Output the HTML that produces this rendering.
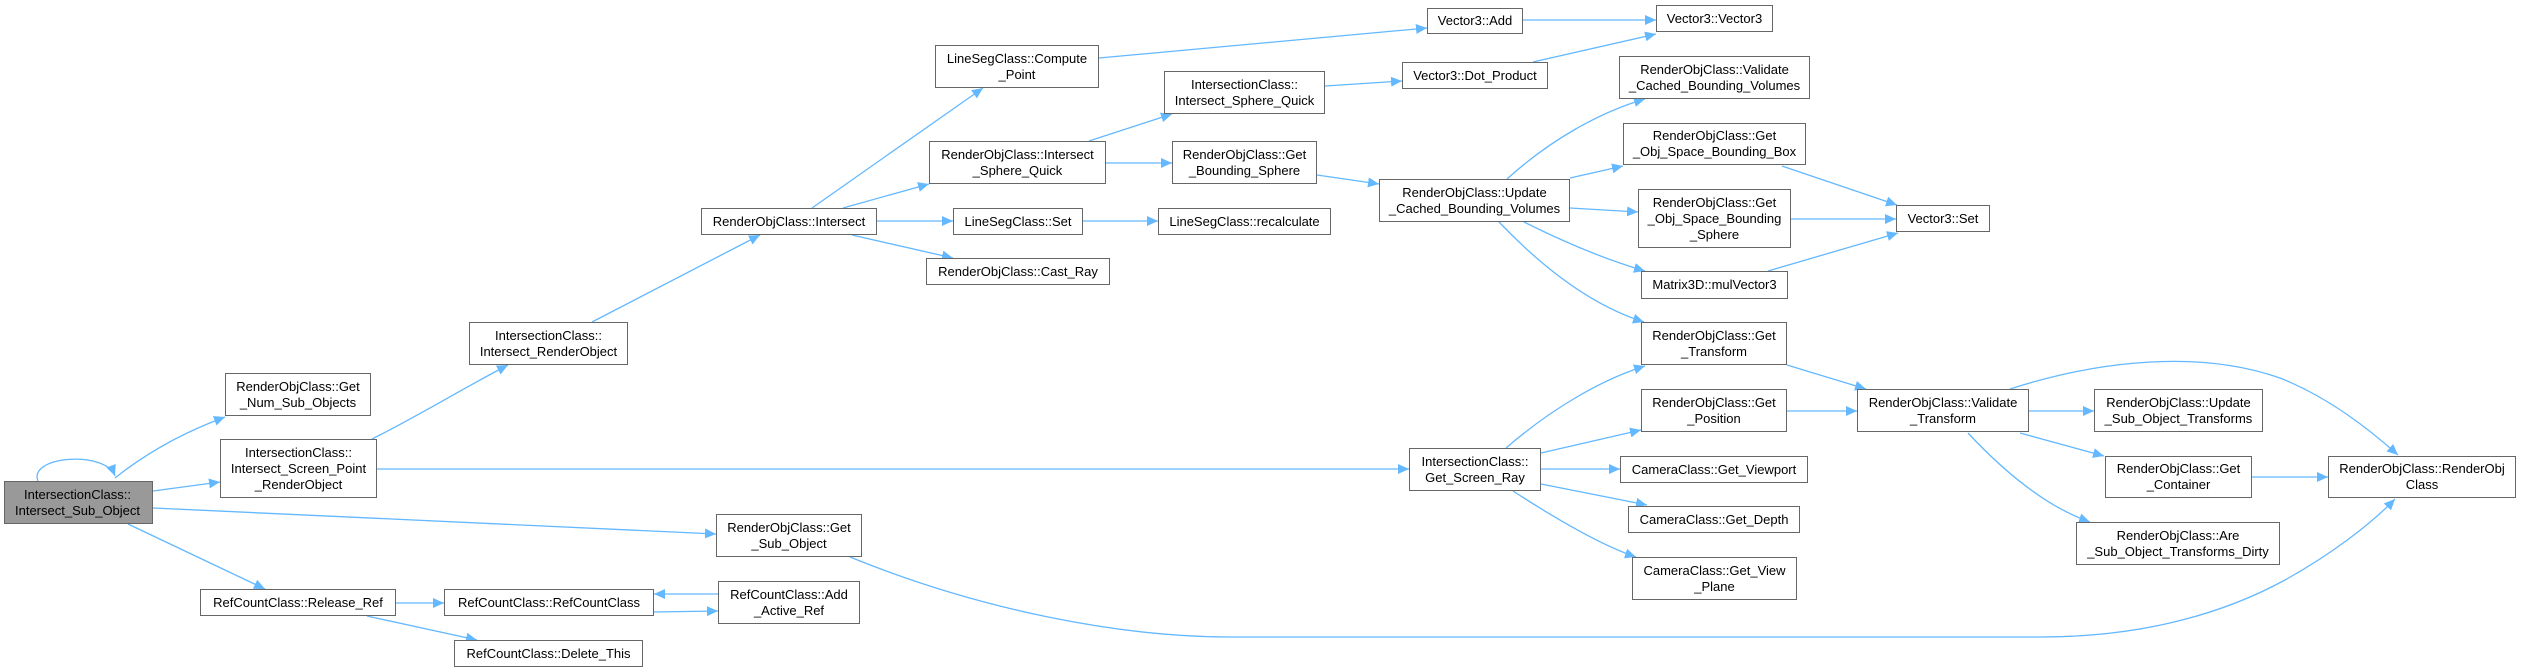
<!DOCTYPE html>
<html><head><meta charset="utf-8"><style>
body{margin:0;width:2522px;height:672px;background:#fff;position:relative;overflow:hidden;font-family:"Liberation Sans",sans-serif}
.n{position:absolute;box-sizing:border-box;border:1.5px solid #666;background:#fff;font-size:13px;line-height:16px;color:#000;display:flex;flex-direction:column;justify-content:center;align-items:center;text-align:center;white-space:nowrap}
svg{position:absolute;left:0;top:0}
</style></head><body>
<svg width="2522" height="672" viewBox="0 0 2522 672">
<defs><marker id="a" markerWidth="12" markerHeight="10" refX="11" refY="5" orient="auto" markerUnits="userSpaceOnUse"><path d="M0,0 L11,5 L0,10 z" fill="#63b8ff"/></marker></defs>
<g fill="none" stroke="#63b8ff" stroke-width="1.3" marker-end="url(#a)">
<path d="M38,481 C28,456 105,450 115,476"/>
<path d="M115,478 C150,450 190,430 225,417"/>
<path d="M153,491 L220,482"/>
<path d="M153,508 L716,534"/>
<path d="M128,524 L265,589"/>
<path d="M372,439 C420,415 460,390 508,365"/>
<path d="M377,469 L1409,469"/>
<path d="M592,322 L760,235"/>
<path d="M812,208 L983,88"/>
<path d="M843,208 L929,184"/>
<path d="M877,221 L953,221"/>
<path d="M852,235 L953,258"/>
<path d="M1099,58 L1427,28"/>
<path d="M1523,20 L1656,20"/>
<path d="M1533,62 L1656,34"/>
<path d="M1089,141 L1172,114"/>
<path d="M1106,163 L1172,163"/>
<path d="M1325,86 L1402,81"/>
<path d="M1083,221 L1158,221"/>
<path d="M1317,175 L1379,184"/>
<path d="M1507,179 C1550,140 1600,112 1645,99"/>
<path d="M1570,178 L1623,166"/>
<path d="M1570,208 L1638,212"/>
<path d="M1524,222 C1560,240 1600,258 1645,271"/>
<path d="M1499,222 C1540,265 1590,305 1644,322"/>
<path d="M1782,166 L1897,205"/>
<path d="M1791,219 L1896,219"/>
<path d="M1768,271 L1898,233"/>
<path d="M1506,448 C1550,410 1600,380 1645,366"/>
<path d="M1541,453 L1641,430"/>
<path d="M1541,469 L1620,469"/>
<path d="M1541,484 L1647,505"/>
<path d="M1513,491 C1550,515 1600,545 1636,557"/>
<path d="M1787,365 L1866,389"/>
<path d="M1787,411 L1857,411"/>
<path d="M2029,411 L2094,411"/>
<path d="M2020,433 L2104,456"/>
<path d="M1968,433 C2010,478 2050,508 2090,522"/>
<path d="M2010,389 C2100,360 2200,350 2280,378 C2330,398 2370,430 2398,455"/>
<path d="M2252,477 L2328,477"/>
<path d="M850,557 C980,610 1120,637 1230,637 L2040,637 C2150,637 2230,610 2285,580 C2330,555 2370,525 2395,499"/>
<path d="M396,603 L444,603"/>
<path d="M367,616 L477,640"/>
<path d="M654,612 L718,611"/>
<path d="M718,594 L654,594"/>
</g></svg>
<div class="n" style="left:4px;top:481px;width:149px;height:43px;background:#999;align-items:flex-start;padding-left:10px">IntersectionClass::<br>Intersect_Sub_Object</div>
<div class="n" style="left:225px;top:373px;width:146px;height:43px">RenderObjClass::Get<br>_Num_Sub_Objects</div>
<div class="n" style="left:220px;top:439px;width:157px;height:59px">IntersectionClass::<br>Intersect_Screen_Point<br>_RenderObject</div>
<div class="n" style="left:469px;top:322px;width:159px;height:43px">IntersectionClass::<br>Intersect_RenderObject</div>
<div class="n" style="left:701px;top:208px;width:176px;height:27px">RenderObjClass::Intersect</div>
<div class="n" style="left:716px;top:514px;width:146px;height:43px">RenderObjClass::Get<br>_Sub_Object</div>
<div class="n" style="left:200px;top:589px;width:196px;height:27px">RefCountClass::Release_Ref</div>
<div class="n" style="left:444px;top:589px;width:210px;height:27px">RefCountClass::RefCountClass</div>
<div class="n" style="left:718px;top:581px;width:142px;height:43px">RefCountClass::Add<br>_Active_Ref</div>
<div class="n" style="left:454px;top:640px;width:189px;height:27px">RefCountClass::Delete_This</div>
<div class="n" style="left:1427px;top:8px;width:96px;height:26px">Vector3::Add</div>
<div class="n" style="left:1656px;top:5px;width:117px;height:27px">Vector3::Vector3</div>
<div class="n" style="left:935px;top:45px;width:164px;height:43px">LineSegClass::Compute<br>_Point</div>
<div class="n" style="left:1164px;top:71px;width:161px;height:43px">IntersectionClass::<br>Intersect_Sphere_Quick</div>
<div class="n" style="left:1402px;top:62px;width:146px;height:27px">Vector3::Dot_Product</div>
<div class="n" style="left:929px;top:141px;width:177px;height:43px">RenderObjClass::Intersect<br>_Sphere_Quick</div>
<div class="n" style="left:1172px;top:141px;width:145px;height:43px">RenderObjClass::Get<br>_Bounding_Sphere</div>
<div class="n" style="left:1379px;top:179px;width:191px;height:43px">RenderObjClass::Update<br>_Cached_Bounding_Volumes</div>
<div class="n" style="left:953px;top:208px;width:130px;height:27px">LineSegClass::Set</div>
<div class="n" style="left:1158px;top:208px;width:173px;height:27px">LineSegClass::recalculate</div>
<div class="n" style="left:926px;top:258px;width:184px;height:27px">RenderObjClass::Cast_Ray</div>
<div class="n" style="left:1409px;top:448px;width:132px;height:43px">IntersectionClass::<br>Get_Screen_Ray</div>
<div class="n" style="left:1619px;top:56px;width:191px;height:43px">RenderObjClass::Validate<br>_Cached_Bounding_Volumes</div>
<div class="n" style="left:1623px;top:123px;width:183px;height:42px">RenderObjClass::Get<br>_Obj_Space_Bounding_Box</div>
<div class="n" style="left:1638px;top:189px;width:153px;height:59px">RenderObjClass::Get<br>_Obj_Space_Bounding<br>_Sphere</div>
<div class="n" style="left:1641px;top:271px;width:147px;height:28px">Matrix3D::mulVector3</div>
<div class="n" style="left:1641px;top:322px;width:146px;height:43px">RenderObjClass::Get<br>_Transform</div>
<div class="n" style="left:1641px;top:389px;width:146px;height:43px">RenderObjClass::Get<br>_Position</div>
<div class="n" style="left:1620px;top:456px;width:188px;height:27px">CameraClass::Get_Viewport</div>
<div class="n" style="left:1628px;top:506px;width:172px;height:27px">CameraClass::Get_Depth</div>
<div class="n" style="left:1632px;top:557px;width:165px;height:43px">CameraClass::Get_View<br>_Plane</div>
<div class="n" style="left:1896px;top:205px;width:94px;height:27px">Vector3::Set</div>
<div class="n" style="left:1857px;top:389px;width:172px;height:43px">RenderObjClass::Validate<br>_Transform</div>
<div class="n" style="left:2094px;top:389px;width:169px;height:43px">RenderObjClass::Update<br>_Sub_Object_Transforms</div>
<div class="n" style="left:2105px;top:456px;width:147px;height:42px">RenderObjClass::Get<br>_Container</div>
<div class="n" style="left:2328px;top:456px;width:188px;height:42px">RenderObjClass::RenderObj<br>Class</div>
<div class="n" style="left:2076px;top:522px;width:204px;height:43px">RenderObjClass::Are<br>_Sub_Object_Transforms_Dirty</div>
</body></html>
